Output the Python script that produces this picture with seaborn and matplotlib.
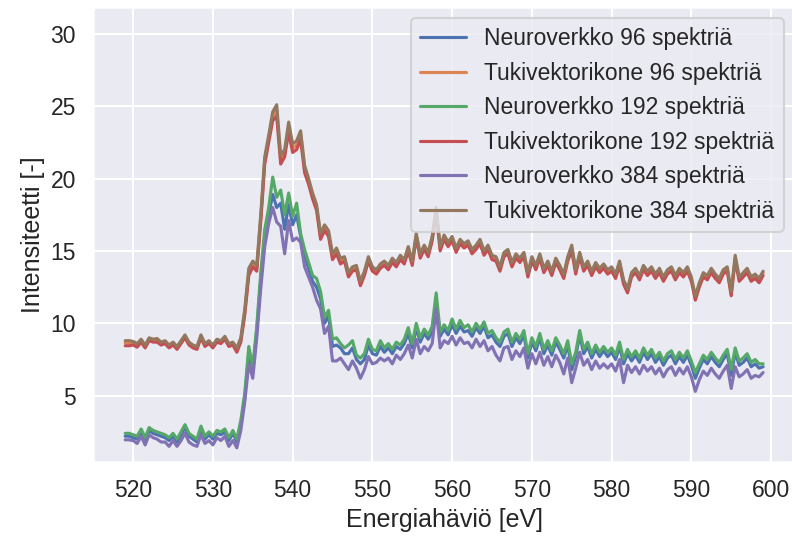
import numpy as np
import pandas as pd
import matplotlib
matplotlib.use("Agg")
import matplotlib.pyplot as plt
import seaborn as sns

# Energy axis: 519 ... 599 eV in 0.5 eV steps
E_START, E_STOP, E_STEP = 519.0, 599.0, 0.5

labels = [
    "Neuroverkko 96 spektriä",
    "Tukivektorikone 96 spektriä",
    "Neuroverkko 192 spektriä",
    "Tukivektorikone 192 spektriä",
    "Neuroverkko 384 spektriä",
    "Tukivektorikone 384 spektriä",
]

neuro_96 = [
    2.2, 2.2, 2.1, 2.0, 2.5, 1.9, 2.6, 2.4, 2.3, 2.2,
    2.1, 1.9, 2.2, 1.8, 2.3, 2.8, 2.2, 2.0, 1.8, 2.7,
    2.0, 2.3, 2.0, 2.4, 2.3, 2.5, 1.9, 2.4, 1.8, 3.0,
    4.9, 7.9, 6.7, 9.5, 13.0, 16.0, 17.5, 18.9, 18.0, 18.3,
    16.5, 18.2, 16.8, 17.5, 16.0, 14.6, 13.8, 12.9, 12.5, 11.7,
    10.0, 10.5, 8.4, 8.5, 8.3, 7.9, 7.9, 8.3, 7.5, 7.2,
    7.5, 8.5, 7.9, 7.8, 8.4, 8.0, 8.3, 7.9, 8.4, 8.2,
    8.6, 9.3, 8.3, 9.7, 8.7, 9.3, 8.9, 9.4, 11.6, 9.1,
    9.6, 9.2, 9.9, 9.3, 9.8, 9.4, 9.5, 9.1, 9.7, 9.3,
    9.8, 9.0, 9.2, 8.7, 8.4, 9.1, 9.3, 8.4, 9.0, 8.6,
    9.2, 7.6, 8.7, 8.1, 9.0, 7.9, 8.5, 7.8, 8.7, 8.2,
    7.6, 8.5, 6.8, 7.7, 9.2, 7.9, 8.4, 7.6, 8.2, 7.7,
    8.1, 7.7, 8.0, 7.5, 8.4, 7.2, 7.9, 7.4, 7.8, 7.3,
    8.0, 7.5, 7.9, 7.3, 7.7, 7.1, 7.6, 7.8, 7.2, 7.7,
    7.3, 7.8, 7.1, 6.2, 6.9, 7.5, 7.2, 7.7, 7.3, 7.0,
    7.5, 7.9, 6.4, 8.0, 7.1, 7.3, 7.6, 7.0, 7.2, 6.9,
    7.0,
]

tuki_96 = [
    8.65, 8.65, 8.6, 8.5, 8.8, 8.4, 8.9, 8.8, 8.85, 8.6,
    8.7, 8.4, 8.6, 8.3, 8.7, 9.1, 8.6, 8.4, 8.3, 9.1,
    8.5, 8.7, 8.4, 8.8, 8.7, 9.0, 8.5, 8.6, 8.2, 8.9,
    10.8, 13.6, 14.1, 13.8, 17.3, 21.3, 22.8, 24.3, 24.7, 21.3,
    21.8, 23.6, 22.1, 22.3, 23.0, 20.7, 19.8, 18.8, 18.0, 16.0,
    16.6, 16.2, 14.6, 15.0, 14.3, 14.5, 13.4, 13.8, 13.8, 12.7,
    13.5, 14.5, 13.8, 13.6, 14.0, 14.2, 13.9, 14.4, 14.1, 14.6,
    14.3, 15.2, 14.2, 16.1, 14.7, 15.3, 14.8, 15.9, 17.8, 15.2,
    16.0, 15.5, 15.9, 15.1, 15.7, 15.4, 15.6, 15.0, 15.3, 15.7,
    14.9, 15.3, 14.6, 14.5, 13.8, 14.8, 15.0, 14.1, 14.7, 14.4,
    14.8, 13.4, 14.5, 13.9, 14.7, 13.7, 14.2, 13.5, 14.4, 13.9,
    13.3, 14.5, 15.2, 13.6, 14.8, 13.8, 14.2, 13.5, 14.1, 13.7,
    14.0, 13.6, 13.8, 13.3, 14.2, 12.9, 12.2, 13.4, 13.7, 13.2,
    13.9, 13.5, 13.8, 13.3, 13.7, 13.1, 13.6, 13.8, 13.2, 13.7,
    13.4, 13.8, 13.1, 11.7, 12.7, 13.4, 13.2, 13.7, 13.3, 13.0,
    13.6, 13.8, 12.0, 14.5, 13.1, 13.4, 13.7, 13.1, 13.3, 13.0,
    13.5,
]

neuro_192 = [
    2.4, 2.4, 2.3, 2.2, 2.7, 2.1, 2.8, 2.6, 2.5, 2.4,
    2.3, 2.1, 2.4, 2.0, 2.5, 3.0, 2.4, 2.2, 2.0, 2.9,
    2.2, 2.5, 2.2, 2.6, 2.5, 2.7, 2.1, 2.6, 2.0, 3.3,
    5.2, 8.4, 7.0, 9.8, 13.5, 16.5, 18.0, 20.1, 18.7, 19.2,
    17.5, 19.0, 17.4, 18.3, 16.2, 15.1, 14.2, 13.3, 13.1, 12.2,
    10.4, 10.9, 8.9, 9.0, 8.6, 8.3, 8.5, 8.8, 7.8, 7.6,
    7.9, 8.9, 8.2, 8.1, 8.8, 8.3, 8.6, 8.2, 8.7, 8.5,
    8.9, 9.7, 8.6, 10.0, 9.0, 9.6, 9.2, 9.8, 12.1, 9.4,
    9.9, 9.5, 10.3, 9.6, 10.2, 9.7, 9.9, 9.4, 10.0, 9.6,
    10.1, 9.3, 9.5, 9.0, 8.7, 9.4, 9.6, 8.7, 9.3, 8.9,
    9.5, 7.9, 9.0, 8.4, 9.3, 8.2, 8.8, 8.1, 9.0, 8.5,
    7.9, 8.8, 7.2, 8.0, 9.5, 8.2, 8.7, 7.9, 8.5, 8.0,
    8.4, 8.0, 8.3, 7.8, 8.7, 7.5, 8.2, 7.7, 8.1, 7.6,
    8.3, 7.8, 8.2, 7.6, 8.0, 7.4, 7.9, 8.1, 7.5, 8.0,
    7.6, 8.1, 7.4, 6.6, 7.2, 7.8, 7.5, 8.0, 7.6, 7.3,
    7.8, 8.2, 6.8, 8.3, 7.4, 7.6, 7.9, 7.3, 7.5, 7.2,
    7.2,
]

tuki_192 = [
    8.45, 8.45, 8.5, 8.35, 8.7, 8.3, 8.8, 8.7, 8.7, 8.5,
    8.6, 8.3, 8.5, 8.2, 8.6, 9.0, 8.5, 8.3, 8.2, 9.0,
    8.4, 8.6, 8.3, 8.7, 8.6, 8.9, 8.4, 8.5, 8.0, 8.7,
    10.6, 13.3, 13.9, 13.6, 17.0, 21.0, 22.5, 24.0, 24.3, 21.0,
    21.5, 23.2, 21.8, 22.0, 22.7, 20.4, 19.6, 18.6, 17.8, 15.8,
    16.4, 16.0, 14.4, 14.8, 14.1, 14.3, 13.2, 13.6, 13.7, 12.6,
    13.3, 14.3, 13.6, 13.4, 13.8, 14.0, 13.7, 14.2, 13.9, 14.4,
    14.1, 15.0, 14.0, 15.9, 14.5, 15.1, 14.6, 15.7, 17.6, 15.0,
    15.8, 15.3, 15.7, 14.9, 15.5, 15.2, 15.4, 14.8, 15.1, 15.5,
    14.7, 15.1, 14.4, 14.3, 13.6, 14.6, 14.8, 13.9, 14.5, 14.2,
    14.6, 13.2, 14.3, 13.7, 14.5, 13.5, 14.0, 13.3, 14.2, 13.7,
    13.1, 14.3, 15.0, 13.4, 14.6, 13.6, 14.0, 13.3, 13.9, 13.5,
    13.8, 13.4, 13.6, 13.1, 14.0, 12.7, 12.1, 13.2, 13.5, 13.0,
    13.7, 13.3, 13.6, 13.1, 13.5, 12.9, 13.4, 13.6, 13.0, 13.5,
    13.2, 13.6, 12.9, 11.6, 12.5, 13.2, 13.0, 13.5, 13.1, 12.8,
    13.4, 13.6, 11.9, 14.4, 12.9, 13.2, 13.5, 12.9, 13.1, 12.8,
    13.3,
]

neuro_384 = [
    1.95, 1.95, 1.9, 1.7, 2.2, 1.6, 2.3, 2.1, 2.0, 1.8,
    1.8, 1.5, 1.9, 1.5, 1.9, 2.4, 1.8, 1.6, 1.5, 2.3,
    1.7, 1.9, 1.6, 2.1, 1.9, 2.2, 1.5, 1.9, 1.4, 2.6,
    4.6, 7.2, 6.2, 9.0, 12.4, 15.3, 16.9, 18.0, 17.0, 16.7,
    14.8, 17.1, 15.7, 15.9, 15.6, 13.9, 13.2, 12.5, 11.6, 11.0,
    9.3, 9.8, 7.4, 7.4, 7.6, 7.2, 6.8, 7.4, 6.9, 6.2,
    6.8, 7.7, 7.2, 7.3, 7.6, 7.4, 7.6, 7.2, 7.8, 7.5,
    7.9, 8.5, 7.6, 8.9, 7.9, 8.4, 8.1, 8.6, 11.0, 8.3,
    8.8, 8.6, 9.1, 8.5, 9.0, 8.6, 8.7, 8.3, 8.9, 8.4,
    8.8, 8.1, 8.4, 7.8, 7.4, 8.3, 8.4, 7.5, 8.1, 7.7,
    8.3, 6.9, 7.9, 7.2, 8.0, 7.1, 7.7, 7.0, 7.8, 7.3,
    6.5, 7.6, 5.9, 6.9, 8.0, 7.1, 7.5, 6.8, 7.4, 6.9,
    7.2, 6.9, 7.2, 6.7, 7.5, 5.9, 7.1, 6.6, 7.0, 6.5,
    7.1, 6.7, 7.0, 6.5, 6.9, 6.3, 6.8, 7.0, 6.4, 6.9,
    6.5, 7.0, 6.3, 5.3, 6.1, 6.7, 6.4, 6.9, 6.5, 6.2,
    6.7, 7.1, 5.5, 7.0, 6.3, 6.5, 6.8, 6.2, 6.4, 6.3,
    6.6,
]

tuki_384 = [
    8.8, 8.8, 8.75, 8.6, 8.9, 8.5, 9.0, 8.9, 8.95, 8.7,
    8.8, 8.5, 8.7, 8.4, 8.8, 9.2, 8.7, 8.5, 8.4, 9.2,
    8.6, 8.8, 8.5, 8.9, 8.8, 9.1, 8.6, 8.7, 8.3, 9.0,
    11.0, 13.8, 14.3, 14.0, 17.5, 21.5, 23.0, 24.6, 25.1, 21.6,
    22.0, 23.9, 22.4, 22.6, 23.3, 20.9, 20.0, 19.0, 18.2, 16.2,
    16.8, 16.4, 14.8, 15.2, 14.5, 14.6, 13.5, 13.9, 14.0, 12.9,
    13.6, 14.6, 13.9, 13.7, 14.1, 14.3, 14.0, 14.5, 14.2, 14.7,
    14.4, 15.3, 14.3, 16.2, 14.8, 15.4, 14.9, 16.0, 18.0, 15.3,
    16.1, 15.6, 16.0, 15.2, 15.8, 15.5, 15.7, 15.1, 15.4, 15.8,
    15.0, 15.4, 14.7, 14.6, 13.9, 14.9, 15.1, 14.2, 14.8, 14.5,
    14.9, 13.5, 14.6, 14.0, 14.8, 13.8, 14.3, 13.6, 14.5, 14.0,
    13.4, 14.6, 15.4, 13.7, 14.9, 13.9, 14.3, 13.6, 14.2, 13.8,
    14.1, 13.7, 13.9, 13.4, 14.3, 13.0, 12.4, 13.5, 13.8, 13.3,
    14.0, 13.6, 13.9, 13.4, 13.8, 13.2, 13.7, 13.9, 13.3, 13.8,
    13.5, 13.9, 13.2, 11.9, 12.8, 13.5, 13.3, 13.8, 13.4, 13.1,
    13.7, 13.9, 12.2, 14.7, 13.2, 13.5, 13.8, 13.2, 13.4, 13.1,
    13.6,
]

series = [neuro_96, tuki_96, neuro_192, tuki_192, neuro_384, tuki_384]

energy = np.arange(E_START, E_STOP + E_STEP / 2, E_STEP)

sns.set_theme(context="talk", style="darkgrid", palette="deep")
plt.rcParams["font.family"] = ["Liberation Sans", "DejaVu Sans"]

fig = plt.figure(figsize=(7.92, 5.41), dpi=100)
ax = fig.add_axes([93.3 / 792, 1 - 461.7 / 541, (795 - 93.3) / 792, (461.7 - 6.7) / 541])

colors = sns.color_palette("deep", 6)
for lab, vals, col in zip(labels, series, colors):
    df = pd.DataFrame({"E": energy, "I": vals})
    sns.lineplot(data=df, x="E", y="I", ax=ax, color=col, label=lab, linewidth=2.25)

ax.set_xlim(515.0, 603.0)
ax.set_ylim(0.44, 31.87)
ax.set_xticks([520, 530, 540, 550, 560, 570, 580, 590, 600])
ax.set_yticks([5, 10, 15, 20, 25, 30])
ax.set_xlabel("Energiahäviö [eV]")
ax.set_ylabel("Intensiteetti [-]")
ax.legend(loc="upper right")

fig.savefig("out.png", dpi=100)
